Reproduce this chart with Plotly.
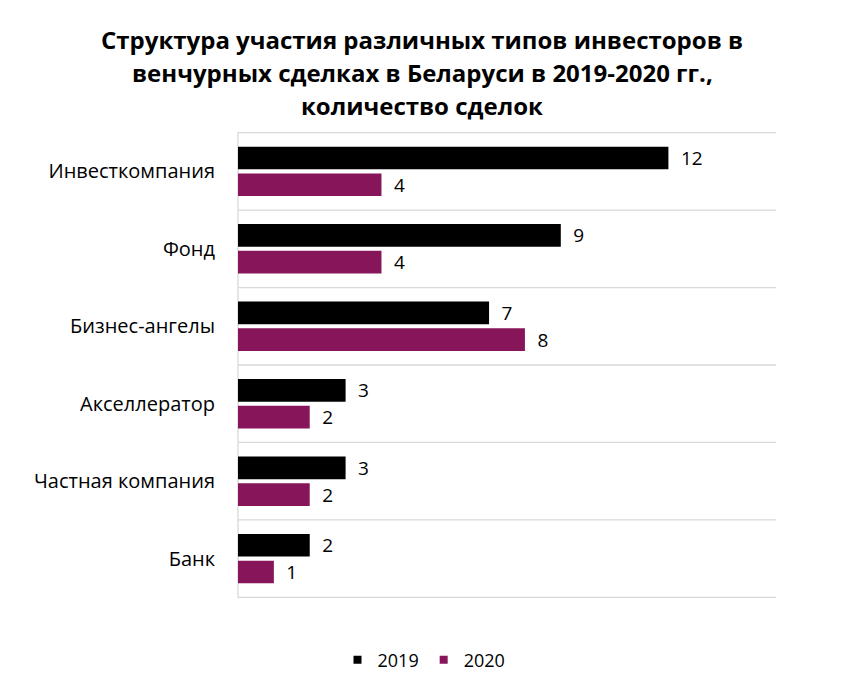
import plotly.graph_objects as go

categories = ["Инвесткомпания", "Фонд", "Бизнес-ангелы", "Акселлератор", "Частная компания", "Банк"]
values_2019 = [12, 9, 7, 3, 3, 2]
values_2020 = [4, 4, 8, 2, 2, 1]
series_names = ["2019", "2020"]
colors = ["#000000", "#87155A"]
title_lines = [
    "Структура участия различных типов инвесторов в",
    "венчурных сделках в Беларуси в 2019-2020 гг.,",
    "количество сделок",
]

FONT = "Open Sans"
W, H = 836, 683

fig = go.Figure()
for name, vals, col in zip(series_names, [values_2019, values_2020], colors):
    fig.add_trace(go.Bar(
        y=categories, x=vals, name=name, orientation="h",
        marker=dict(color=col, line=dict(width=0)),
        text=vals, texttemplate="\u2002%{x}", textposition="outside",
        constraintext="none",
        textfont=dict(family=FONT, size=19, color="#000000"),
        cliponaxis=False, showlegend=False, legendgroup=name,
    ))
# legend entries with small square swatches
for name, col in zip(series_names, colors):
    fig.add_trace(go.Scatter(
        x=[None], y=[None], mode="markers", name=name, legendgroup=name,
        marker=dict(symbol="square", size=8, color=col),
        showlegend=True,
    ))

shapes = []
for i in range(len(categories) + 1):
    shapes.append(dict(type="line", xref="paper", x0=0, x1=1, yref="y",
                       y0=i - 0.5, y1=i - 0.5,
                       line=dict(color="#D9D9D9", width=1.3), layer="below"))
shapes.append(dict(type="line", xref="paper", x0=0, x1=0, yref="paper", y0=0, y1=1,
                   line=dict(color="#D9D9D9", width=1.3), layer="below"))

annotations = []
for k, line in enumerate(title_lines):
    annotations.append(dict(
        text=f"<b>{line}</b>", xref="paper", yref="paper",
        x=(414 - 230) / (768 - 230), xanchor="center",
        y=1 + (124 - (31 + 33 * k)) / (590 - 124), yanchor="middle",
        showarrow=False,
        font=dict(family=FONT, size=24, color="#000000"),
    ))

fig.update_layout(
    width=W, height=H,
    margin=dict(l=230, r=68, t=124, b=93),
    paper_bgcolor="white", plot_bgcolor="white",
    barmode="group", bargap=0.31, bargroupgap=0.15,
    xaxis=dict(range=[0, 15], showgrid=False, showticklabels=False, zeroline=False,
               showline=False),
    yaxis=dict(autorange="reversed", showgrid=False, showline=False, ticks="",
               ticklabelstandoff=22,
               tickfont=dict(family=FONT, size=20, color="#000000")),
    legend=dict(orientation="h", x=416 / W, xanchor="center", xref="container",
                y=1 - 652 / H, yanchor="middle", yref="container",
                font=dict(family=FONT, size=18, color="#000000"),
                traceorder="normal", itemwidth=30),
    shapes=shapes,
    annotations=annotations,
    showlegend=True,
)

fig.write_html("out.html")
